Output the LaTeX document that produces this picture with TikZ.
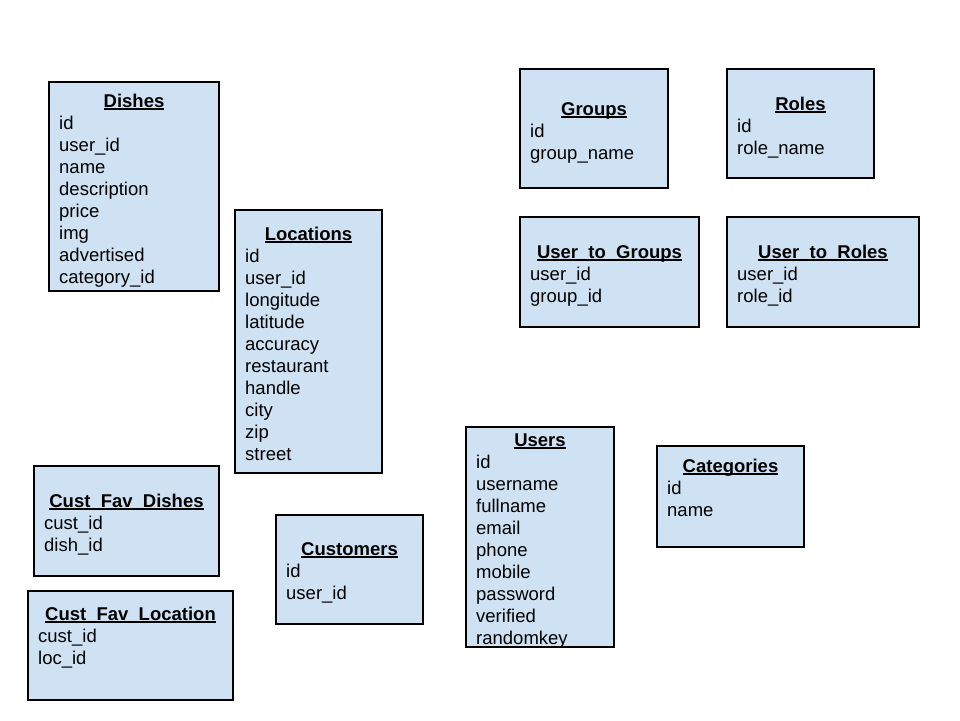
\documentclass[tikz,border=0pt]{standalone}
\usepackage{fontspec}
\setmainfont{Liberation Sans}
\definecolor{boxblue}{HTML}{CFE2F3}
\tikzset{
  tablebox/.style={draw=black, line width=1.6pt, fill=boxblue, inner sep=0pt, outer sep=0pt},
  tabletitle/.style={anchor=base, inner sep=0pt, font=\fontsize{18.5}{22}\selectfont\bfseries},
  tablefield/.style={anchor=base west, inner sep=0pt, font=\fontsize{18.5}{22}\selectfont},
}
% underline drawn at a fixed depth below the baseline
\newcommand\titleul[1]{\setbox0\hbox{#1}\rlap{\vrule width\wd0 height -1.4pt depth 3.2pt}\box0}
% #1 name, #2 left, #3 top, #4 right, #5 bottom, #6 title baseline, #7 title, #8 fields
\newcommand\erdtable[8]{%
  \node[tablebox, anchor=north west,
        minimum width={(#4-#2)*1pt}, minimum height={(#5-#3)*1pt}] (#1) at (#2,#3) {};
  \node[tabletitle] (#1-title) at ({(#2+#4)/2},{#6+1.5}) {\titleul{#7}};
  \foreach \f [count=\i] in {#8}
    \node[tablefield] (#1-f\i) at ({#2+10},{#6+1.5+22*\i}) {\f};
}
\begin{document}
\begin{tikzpicture}[x=1pt,y=-1pt]
  \path[fill=white] (0,0) rectangle (960,720);
  \useasboundingbox (0,0) rectangle (960,720);

  \erdtable{dishes}{49}{82}{219}{291}{105.5}{Dishes}
    {id,user\_id,name,description,price,img,advertised,category\_id}
  \erdtable{locations}{235}{210}{382}{473}{238.5}{Locations}
    {id,user\_id,longitude,latitude,accuracy,restaurant,handle,city,zip,street}
  \erdtable{groups}{520}{69}{668}{188}{113.5}{Groups}
    {id,group\_name}
  \erdtable{roles}{727}{69}{874}{178}{108.5}{Roles}
    {id,role\_name}
  \erdtable{usergroups}{520}{217}{699}{327}{256.5}{User\_to\_Groups}
    {user\_id,group\_id}
  \erdtable{userroles}{727}{217}{919}{327}{256.5}{User\_to\_Roles}
    {user\_id,role\_id}
  \erdtable{users}{466}{427}{614}{647}{444.5}{Users}
    {id,username,fullname,email,phone,mobile,password,verified,randomkey}
  \erdtable{categories}{657}{446}{804}{547}{470.5}{Categories}
    {id,name}
  \erdtable{custfavdishes}{34}{466}{219}{576}{505.5}{Cust\_Fav\_Dishes}
    {cust\_id,dish\_id}
  \erdtable{customers}{276}{515}{423}{624}{553.5}{Customers}
    {id,user\_id}
  \erdtable{custfavloc}{28}{591}{233}{700}{618.5}{Cust\_Fav\_Location}
    {cust\_id,loc\_id}
\end{tikzpicture}
\end{document}
